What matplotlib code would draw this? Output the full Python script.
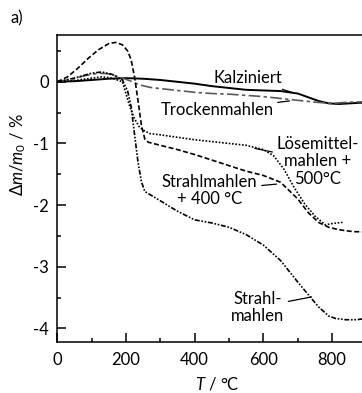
import matplotlib
matplotlib.use("Agg")
import matplotlib.pyplot as plt

plt.rcParams['font.family'] = ['Lato', 'DejaVu Sans']
plt.rcParams['mathtext.fontset'] = 'custom'
plt.rcParams['mathtext.rm'] = 'Lato'
plt.rcParams['mathtext.it'] = 'Lato:italic'
plt.rcParams['mathtext.fallback'] = 'stixsans'
plt.rcParams['axes.unicode_minus'] = False

# Kalziniert (solid)
t_kalz = [0, 50, 100, 150, 200, 250, 300, 350, 400, 450, 500, 550, 600, 650,
          700, 730, 760, 790, 820, 850, 880, 930]
y_kalz = [0, 0.01, 0.03, 0.05, 0.06, 0.05, 0.03, 0.0, -0.03, -0.07, -0.10,
          -0.13, -0.14, -0.15, -0.19, -0.25, -0.31, -0.35, -0.36, -0.35, -0.34, -0.34]

# Trockenmahlen (dash-dot)
t_trock = [0, 40, 80, 120, 150, 180, 210, 240, 270, 300, 350, 400, 450, 500,
           550, 600, 650, 700, 750, 800, 850, 930]
y_trock = [0, 0.04, 0.10, 0.14, 0.13, 0.08, 0.02, -0.05, -0.09, -0.11, -0.14,
           -0.17, -0.19, -0.20, -0.22, -0.24, -0.27, -0.30, -0.33, -0.35, -0.33, -0.32]

# Strahlmahlen + 400 °C (dashed)
t_s400 = [0, 30, 60, 90, 120, 150, 170, 190, 205, 215, 225, 235, 245, 255, 265,
          300, 350, 400, 450, 500, 550, 600, 650, 700, 730, 760, 790, 820, 860, 930]
y_s400 = [0, 0.08, 0.22, 0.38, 0.52, 0.62, 0.64, 0.60, 0.50, 0.36, 0.08, -0.30,
          -0.70, -0.93, -0.98, -1.03, -1.10, -1.18, -1.27, -1.36, -1.45, -1.52,
          -1.63, -1.90, -2.12, -2.28, -2.36, -2.40, -2.43, -2.44]

# Lösemittelmahlen + 500 °C (dotted)
t_loes = [0, 50, 100, 130, 160, 190, 210, 225, 240, 255, 270, 300, 350, 400,
          450, 500, 550, 600, 630, 660, 690, 720, 750, 780, 800, 830]
y_loes = [0, 0.02, 0.06, 0.08, 0.06, 0.0, -0.38, -0.60, -0.74, -0.80, -0.84,
          -0.86, -0.90, -0.94, -0.97, -1.00, -1.03, -1.10, -1.20, -1.42, -1.72,
          -1.98, -2.18, -2.32, -2.30, -2.28]

# Strahlmahlen (dash-dot-dot)
t_strahl = [0, 50, 100, 130, 160, 190, 205, 215, 225, 235, 245, 255, 300, 350,
            400, 420, 450, 500, 550, 600, 650, 700, 730, 760, 790, 810, 840, 870, 930]
y_strahl = [0, 0.06, 0.14, 0.16, 0.12, 0.03, -0.15, -0.40, -0.85, -1.30, -1.62,
            -1.78, -1.93, -2.10, -2.24, -2.26, -2.29, -2.36, -2.48, -2.65, -2.90,
            -3.25, -3.45, -3.65, -3.80, -3.84, -3.86, -3.86, -3.82]

fig = plt.figure(figsize=(3.62, 3.93), dpi=100)
ax = fig.add_axes([0.158, 0.130, 0.883, 0.781])

lw = 1.2
ax.plot(t_kalz, y_kalz, color='black', lw=1.4, ls='-')
ax.plot(t_trock, y_trock, color='0.35', lw=lw, dashes=(7, 2, 2, 2))
ax.plot(t_s400, y_s400, color='black', lw=lw, dashes=(3, 1.5))
ax.plot(t_loes, y_loes, color='black', lw=lw, dashes=(1, 1))
ax.plot(t_strahl, y_strahl, color='black', lw=lw, dashes=(3, 1, 1, 1, 1, 1))

fs = 12
ann = dict(fontsize=fs, ha='center', va='center', linespacing=1.1,
           arrowprops=dict(arrowstyle='-', color='black', lw=0.9, shrinkA=1, shrinkB=0))
ax.annotate('Kalziniert', xy=(682, -0.17), xytext=(555, 0.06), **ann)
ax.annotate('Trockenmahlen', xy=(676, -0.31), xytext=(465, -0.46), **ann)
ax.annotate('Lösemittel-\nmahlen +\n500°C', xy=(575, -1.08), xytext=(758, -1.29), **ann)
ax.annotate('Strahlmahlen\n+ 400 °C', xy=(638, -1.66), xytext=(444, -1.76), **ann)
ax.annotate('Strahl-\nmahlen', xy=(740, -3.49), xytext=(583, -3.66), **ann)

ax.set_xlim(0, 930)
ax.set_ylim(-4.22, 0.76)
ax.set_xticks([0, 200, 400, 600, 800])
ax.set_xticks(range(100, 900, 200), minor=True)
ax.set_yticks([0, -1, -2, -3, -4])
ax.set_yticks([0.5, -0.5, -1.5, -2.5, -3.5], minor=True)
ax.tick_params(which='both', direction='in', labelsize=fs, width=1.1)
ax.tick_params(which='major', length=6.5)
ax.tick_params(which='minor', length=3)
ax.tick_params(axis='x', pad=7)
ax.tick_params(axis='y', pad=6)
for sp in ax.spines.values():
    sp.set_linewidth(1.1)

ax.set_xlabel(r'$T$ / °C', fontsize=fs)
ax.xaxis.set_label_coords(0.5, -0.11)
ax.set_ylabel(r'$\Delta m/m_0$ / %', fontsize=fs)
ax.yaxis.set_label_coords(-0.092, 0.61)
fig.text(0.028, 0.952, 'a)', fontsize=fs, ha='left', va='center')

fig.savefig('out.png', dpi=100)
